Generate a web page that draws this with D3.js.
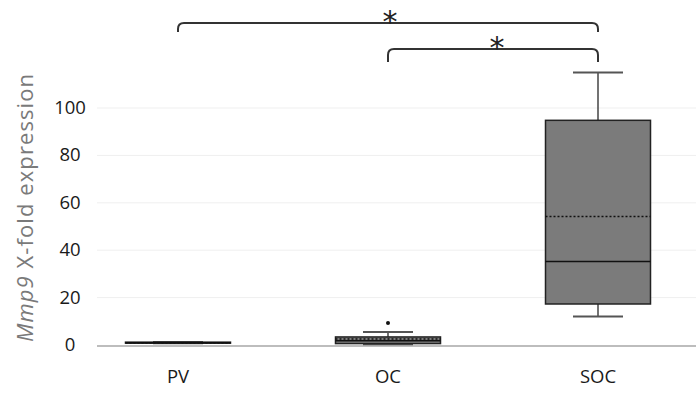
<!DOCTYPE html>
<html>
<head>
<meta charset="utf-8">
<script src="https://cdn.jsdelivr.net/npm/d3@7"></script>
<style>
  body { margin: 0; background: #fff; }
  svg { display: block; font-family: "Open Sans", sans-serif; }
</style>
</head>
<body>
<div id="vis"></div>
<script>
// groups and box statistics
const groups = ["PV", "OC", "SOC"];
const whiskerLow = [0.7, 0.3, 12];
const q1 = [0.8, 0.6, 17.3];
const median = [1.0, 1.8, 35.2];
const mean = [1.0, 2.5, 54.2];
const q3 = [1.2, 3.4, 94.8];
const whiskerHigh = [1.3, 5.5, 115];
const outliers = [[], [9.3], []];
const yTicks = [0, 20, 40, 60, 80, 100];
const comparisons = [["PV", "SOC", "*"], ["OC", "SOC", "*"]];

const width = 696, height = 396;
const svg = d3.select("#vis").append("svg")
  .attr("width", width)
  .attr("height", height);

const x = d3.scaleBand().domain(groups).range([73, 703]).padding(0);
const y = d3.scaleLinear().domain([0, 100]).range([345, 108]);

const plotLeft = 97, plotRight = 696;

// gridlines
svg.append("g")
  .selectAll("line")
  .data(yTicks.slice(1))
  .enter().append("line")
  .attr("x1", plotLeft).attr("x2", plotRight)
  .attr("y1", d => y(d)).attr("y2", d => y(d))
  .attr("stroke", "#efefef")
  .attr("stroke-width", 1);

// y tick labels (centered, excel style)
svg.append("g")
  .selectAll("text")
  .data(yTicks)
  .enter().append("text")
  .attr("x", 70)
  .attr("y", d => y(d) + 6)
  .attr("text-anchor", "middle")
  .attr("font-size", 18.5)
  .attr("fill", "#1a1a1a")
  .text(d => d);

// y axis title
const yTitle = svg.append("text")
  .attr("transform", "translate(33,208) rotate(-90)")
  .attr("text-anchor", "middle")
  .attr("font-size", 22)
  .attr("textLength", 268)
  .attr("lengthAdjust", "spacing")
  .attr("fill", "#7a7a7a");
yTitle.append("tspan").attr("font-style", "italic").text("Mmp9");
yTitle.append("tspan").text(" X-fold expression");

const boxes = groups.map((g, i) => ({
  g, lo: whiskerLow[i], q1: q1[i], med: median[i], mean: mean[i],
  q3: q3[i], hi: whiskerHigh[i], out: outliers[i]
}));

const bw = x.bandwidth() * 0.5;
const capW = 50;

// axis line
svg.append("line")
  .attr("x1", plotLeft).attr("x2", plotRight)
  .attr("y1", y(0) + 1).attr("y2", y(0) + 1)
  .attr("stroke", "#bdbdbd").attr("stroke-width", 2);

const box = svg.append("g")
  .selectAll("g")
  .data(boxes)
  .enter().append("g")
  .attr("transform", d => `translate(${x(d.g) + x.bandwidth() / 2},0)`);

// whiskers
box.append("line")
  .attr("x1", 0).attr("x2", 0)
  .attr("y1", d => y(d.hi)).attr("y2", d => y(d.q3))
  .attr("stroke", "#444").attr("stroke-width", 1.5);
box.append("line")
  .attr("x1", 0).attr("x2", 0)
  .attr("y1", d => y(d.q1)).attr("y2", d => y(d.lo))
  .attr("stroke", "#444").attr("stroke-width", 1.5);
box.append("line")
  .attr("x1", -capW / 2).attr("x2", capW / 2)
  .attr("y1", d => y(d.hi)).attr("y2", d => y(d.hi))
  .attr("stroke", "#555").attr("stroke-width", 2);
box.append("line")
  .attr("x1", -capW / 2).attr("x2", capW / 2)
  .attr("y1", d => y(d.lo)).attr("y2", d => y(d.lo))
  .attr("stroke", "#555").attr("stroke-width", 2);

box.append("rect")
  .attr("x", -bw / 2)
  .attr("width", bw)
  .attr("y", d => y(d.q3))
  .attr("height", d => Math.max(1, y(d.q1) - y(d.q3)))
  .attr("fill", "#7b7b7b")
  .attr("stroke", "#222")
  .attr("stroke-width", 1.5);

box.append("line")
  .attr("x1", -bw / 2).attr("x2", bw / 2)
  .attr("y1", d => y(d.med)).attr("y2", d => y(d.med))
  .attr("stroke", "#111").attr("stroke-width", 1.5);

box.append("line")
  .attr("x1", -bw / 2).attr("x2", bw / 2)
  .attr("y1", d => y(d.mean)).attr("y2", d => y(d.mean))
  .attr("stroke", "#111").attr("stroke-width", 1.5)
  .attr("stroke-dasharray", "2,2");

box.selectAll("circle")
  .data(d => d.out)
  .enter().append("circle")
  .attr("cx", 0)
  .attr("cy", d => y(d))
  .attr("r", 2)
  .attr("fill", "#111");

// x labels
svg.append("g")
  .selectAll("text")
  .data(groups)
  .enter().append("text")
  .attr("x", d => x(d) + x.bandwidth() / 2)
  .attr("y", 383)
  .attr("text-anchor", "middle")
  .attr("font-size", 18.5)
  .attr("fill", "#1a1a1a")
  .text(d => d);

// significance brackets
const bracketY = [23, 49];
const hook = [9, 13];
comparisons.forEach(([a, b, star], i) => {
  const x1 = x(a) + x.bandwidth() / 2;
  const x2 = x(b) + x.bandwidth() / 2;
  const yy = bracketY[i], h = hook[i], r = 6;
  const p = d3.path();
  p.moveTo(x1, yy + h);
  p.lineTo(x1, yy + r);
  p.quadraticCurveTo(x1, yy, x1 + r, yy);
  p.lineTo(x2 - r, yy);
  p.quadraticCurveTo(x2, yy, x2, yy + r);
  p.lineTo(x2, yy + h);
  svg.append("path")
    .attr("d", p.toString())
    .attr("fill", "none")
    .attr("stroke", "#333")
    .attr("stroke-width", 2);
  svg.append("text")
    .attr("x", (x1 + x2) / 2 + (i === 0 ? 2 : 4))
    .attr("y", yy + 9)
    .attr("text-anchor", "middle")
    .attr("font-size", 30)
    .attr("font-family", "DejaVu Sans")
    .attr("fill", "#222")
    .text(star);
});
</script>
</body>
</html>
